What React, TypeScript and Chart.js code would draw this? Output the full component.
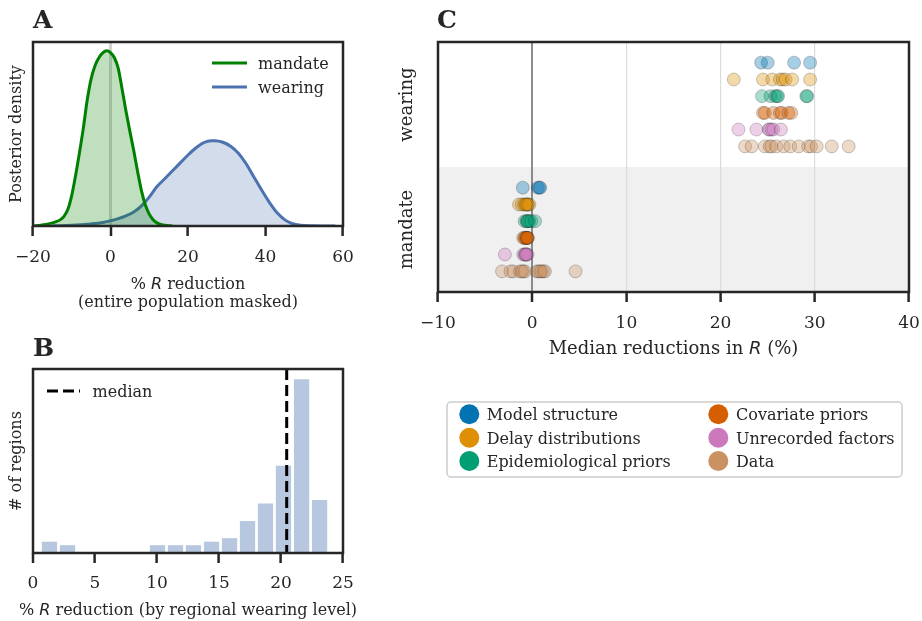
import React, { useEffect, useRef } from 'react';
import { Chart, registerables } from 'chart.js';

Chart.register(...registerables);

const SERIF = "'DejaVu Serif', serif";
const SANS = "'DejaVu Sans', sans-serif";
const INK = '#262626';

// ---------- Panel A: posterior densities (relative) ----------
const mandateX = [-20, -18, -16, -14, -13, -12, -11, -10, -9, -8, -7, -6, -5, -4, -3, -2, -1, 0, 1, 2, 3, 4, 5, 6, 7, 8, 9, 10, 11, 12, 13, 14, 16];
const mandateDensity = [0, 0.005, 0.012, 0.025, 0.035, 0.055, 0.095, 0.175, 0.29, 0.42, 0.56, 0.72, 0.84, 0.915, 0.96, 0.988, 1.0, 0.99, 0.96, 0.9, 0.78, 0.655, 0.54, 0.43, 0.31, 0.2, 0.12, 0.068, 0.036, 0.018, 0.009, 0.004, 0];
const wearingX = [-15, -10, -5, -2, 0, 2, 4, 6, 8, 10, 12, 14, 16, 18, 20, 22, 24, 26, 27, 29, 31, 33, 35, 37, 39, 41, 43, 45, 47, 49, 52, 58];
const wearingDensity = [0.001, 0.004, 0.012, 0.02, 0.03, 0.042, 0.058, 0.08, 0.115, 0.165, 0.225, 0.27, 0.315, 0.36, 0.405, 0.445, 0.475, 0.487, 0.487, 0.478, 0.455, 0.415, 0.355, 0.28, 0.205, 0.135, 0.075, 0.035, 0.013, 0.004, 0.001, 0];
const densityMax = 1.05;
const seriesALabels = ['mandate', 'wearing'];

// ---------- Panel B: histogram of regional reductions ----------
const binCenters = [1.33, 2.78, 4.23, 5.68, 7.14, 8.59, 10.04, 11.49, 12.94, 14.4, 15.85, 17.3, 18.75, 20.2, 21.66, 23.11];
const regionCounts = [2.9, 2.0, 0, 0.25, 0, 0.25, 2.0, 2.0, 2.0, 2.9, 3.8, 8.2, 12.7, 22.4, 44.6, 13.6];
const countMax = 47.2;
const medianReduction = 20.46;

// ---------- Panel C: sensitivity analysis medians ----------
const sourceNames = ['Model structure', 'Delay distributions', 'Epidemiological priors', 'Covariate priors', 'Unrecorded factors', 'Data'];
const sourceColors = ['#0173b2', '#de8f05', '#029e73', '#d55e00', '#cc78bc', '#ca9161'];
const groupLabels = ['wearing', 'mandate'];
const wearingMedians: number[][] = [
  [24.3, 25.0, 27.8, 29.5],
  [21.4, 24.5, 25.5, 26.3, 26.6, 26.9, 27.6, 29.5],
  [24.4, 25.3, 25.8, 26.0, 26.1, 29.1, 29.2],
  [24.5, 24.7, 25.6, 26.3, 26.5, 27.2, 27.5],
  [21.9, 23.8, 25.1, 25.2, 25.4, 25.6, 26.4],
  [22.6, 23.3, 24.7, 25.2, 25.4, 25.9, 26.7, 27.4, 28.3, 29.3, 29.6, 30.2, 31.8, 33.6],
];
const mandateMedians: number[][] = [
  [-1.0, 0.6, 0.75, 0.85],
  [-1.4, -1.1, -0.85, -0.6, -0.45, -0.3, -0.5, -0.7],
  [-0.8, -0.6, -0.45, -0.3, -0.1, 0.3, -0.5],
  [-0.95, -0.8, -0.6, -0.45, -0.7, -0.5, -0.55],
  [-2.9, -0.95, -0.8, -0.6, -0.5, -0.65, -0.7],
  [-3.2, -2.3, -2.0, -1.3, -0.95, -0.75, 0.5, 0.65, 1.0, 1.2, 1.35, 4.6, -1.1, 0.85],
];

// layout constants (not data)
const groupCenters = [1, 0];
const rowOffsets = [0.335, 0.2, 0.067, -0.067, -0.2, -0.335];

const fmtTick = (v: number) => (v < 0 ? '\u2212' + Math.abs(v) : String(v));

function hexA(hex: string, a: number) {
  const r = parseInt(hex.slice(1, 3), 16);
  const g = parseInt(hex.slice(3, 5), 16);
  const b = parseInt(hex.slice(5, 7), 16);
  return `rgba(${r},${g},${b},${a})`;
}

type Part = [string, boolean];
function drawRich(ctx: CanvasRenderingContext2D, parts: Part[], x: number, y: number, size: number, align: 'center' | 'left' = 'center') {
  ctx.save();
  ctx.fillStyle = INK;
  ctx.textBaseline = 'alphabetic';
  ctx.textAlign = 'left';
  const fontFor = (it: boolean) => (it ? `italic ${size}px ${SANS}` : `${size}px ${SERIF}`);
  let total = 0;
  for (const [t, it] of parts) {
    ctx.font = fontFor(it);
    total += ctx.measureText(t).width;
  }
  let cx = align === 'center' ? x - total / 2 : x;
  for (const [t, it] of parts) {
    ctx.font = fontFor(it);
    ctx.fillText(t, cx, y);
    cx += ctx.measureText(t).width;
  }
  ctx.restore();
}

function drawRotated(ctx: CanvasRenderingContext2D, text: string, x: number, y: number, size: number) {
  ctx.save();
  ctx.translate(x, y);
  ctx.rotate(-Math.PI / 2);
  ctx.font = `${size}px ${SERIF}`;
  ctx.fillStyle = INK;
  ctx.textAlign = 'center';
  ctx.textBaseline = 'alphabetic';
  ctx.fillText(text, 0, 0);
  ctx.restore();
}

function drawFrame(chart: any) {
  const { ctx, chartArea } = chart;
  const { left, top, right, bottom } = chartArea;
  ctx.save();
  ctx.strokeStyle = INK;
  ctx.lineWidth = 2.5;
  ctx.strokeRect(left, top, right - left, bottom - top);
  ctx.restore();
}

function drawLetter(ctx: CanvasRenderingContext2D, letter: string, x: number, y: number) {
  ctx.save();
  ctx.font = `bold 25px ${SERIF}`;
  ctx.fillStyle = INK;
  ctx.textAlign = 'left';
  ctx.textBaseline = 'alphabetic';
  ctx.fillText(letter, x, y);
  ctx.restore();
}

function legendLine(ctx: CanvasRenderingContext2D, x0: number, x1: number, y: number, color: string, dash: number[], label: string, tx: number, ty: number) {
  ctx.save();
  ctx.strokeStyle = color;
  ctx.lineWidth = 3;
  ctx.setLineDash(dash);
  ctx.beginPath();
  ctx.moveTo(x0, y);
  ctx.lineTo(x1, y);
  ctx.stroke();
  ctx.restore();
  ctx.save();
  ctx.font = `16px ${SERIF}`;
  ctx.fillStyle = INK;
  ctx.textAlign = 'left';
  ctx.textBaseline = 'alphabetic';
  ctx.fillText(label, tx, ty);
  ctx.restore();
}

function xAxis(min: number, max: number, step: number, height: number, padding: number, onArea = false) {
  return {
    type: 'linear',
    min,
    max,
    offset: false,
    afterFit: (s: any) => {
      s.height = height;
      s.paddingLeft = 0;
      s.paddingRight = 0;
    },
    border: { display: false },
    grid: {
      offset: false,
      drawOnChartArea: onArea,
      drawTicks: true,
      tickLength: 10,
      tickWidth: 2.5,
      tickColor: INK,
      color: (c: any) => (c.tick && c.tick.value === 0 ? 'rgba(128,128,128,0.9)' : '#dcdcdc'),
      lineWidth: (c: any) => (c.tick && c.tick.value === 0 ? 2 : 1.2),
    },
    ticks: {
      stepSize: step,
      color: INK,
      font: { family: SERIF, size: 17 },
      padding,
      maxRotation: 0,
      autoSkip: false,
      callback: (v: any) => fmtTick(Number(v)),
    },
  };
}

const baseOptions = {
  animation: false,
  responsive: false,
  devicePixelRatio: 1,
  events: [],
  plugins: { legend: { display: false }, tooltip: { enabled: false } },
};

function configA(): any {
  return {
    type: 'line',
    data: {
      datasets: [
        {
          label: seriesALabels[0],
          data: mandateX.map((x, i) => ({ x, y: mandateDensity[i] })),
          borderColor: '#008000',
          backgroundColor: 'rgba(0,128,0,0.25)',
          fill: 'origin',
          borderWidth: 3,
          pointRadius: 0,
          cubicInterpolationMode: 'monotone',
        },
        {
          label: seriesALabels[1],
          data: wearingX.map((x, i) => ({ x, y: wearingDensity[i] })),
          borderColor: '#4c72b0',
          backgroundColor: 'rgba(76,114,176,0.25)',
          fill: 'origin',
          borderWidth: 3,
          pointRadius: 0,
          cubicInterpolationMode: 'monotone',
        },
      ],
    },
    options: {
      ...baseOptions,
      layout: { padding: { left: 33, right: 17, top: 42, bottom: 0 } },
      scales: {
        x: xAxis(-20, 60, 20, 94, 11),
        y: { type: 'linear', display: false, min: 0, max: densityMax },
      },
    },
    plugins: [
      {
        id: 'decorA',
        beforeDatasetsDraw(chart: any) {
          const { ctx, chartArea, scales } = chart;
          const px = scales.x.getPixelForValue(0);
          ctx.save();
          ctx.strokeStyle = 'rgba(128,128,128,0.35)';
          ctx.lineWidth = 3;
          ctx.beginPath();
          ctx.moveTo(px, chartArea.top);
          ctx.lineTo(px, chartArea.bottom);
          ctx.stroke();
          ctx.restore();
        },
        afterDatasetsDraw(chart: any) {
          const ctx = chart.ctx;
          drawFrame(chart);
          legendLine(ctx, 212, 247, 63, '#008000', [], seriesALabels[0], 258, 68.5);
          legendLine(ctx, 212, 247, 87, '#4c72b0', [], seriesALabels[1], 258, 92.5);
        },
        afterDraw(chart: any) {
          const ctx = chart.ctx;
          const { left, right, top, bottom } = chart.chartArea;
          const cx = (left + right) / 2;
          drawRich(ctx, [['% ', false], ['R', true], [' reduction', false]], cx, 288.5, 16);
          drawRich(ctx, [['(entire population masked)', false]], cx, 306.5, 16);
          drawRotated(ctx, 'Posterior density', 21, (top + bottom) / 2, 16);
          drawLetter(ctx, 'A', 33, 28);
        },
      },
    ],
  };
}

function configB(): any {
  return {
    type: 'bar',
    data: {
      datasets: [
        {
          label: 'regions',
          data: binCenters.map((x, i) => ({ x, y: regionCounts[i] })),
          backgroundColor: 'rgb(183,199,223)',
          borderWidth: 0,
          barPercentage: 0.85,
          categoryPercentage: 1,
        },
      ],
    },
    options: {
      ...baseOptions,
      layout: { padding: { left: 33, right: 17, top: 49, bottom: 0 } },
      scales: {
        x: xAxis(0, 25, 5, 68, 10),
        y: { type: 'linear', display: false, min: 0, max: countMax },
      },
    },
    plugins: [
      {
        id: 'decorB',
        afterDatasetsDraw(chart: any) {
          const { ctx, chartArea, scales } = chart;
          const px = scales.x.getPixelForValue(medianReduction);
          ctx.save();
          ctx.strokeStyle = '#000';
          ctx.lineWidth = 3;
          ctx.setLineDash([11, 5]);
          ctx.beginPath();
          ctx.moveTo(px, chartArea.top);
          ctx.lineTo(px, chartArea.bottom);
          ctx.stroke();
          ctx.restore();
          drawFrame(chart);
          legendLine(ctx, 47, 80, 71, '#000', [11, 5], 'median', 92.5, 76.5);
        },
        afterDraw(chart: any) {
          const ctx = chart.ctx;
          const { left, right, top, bottom } = chart.chartArea;
          drawRich(ctx, [['% ', false], ['R', true], [' reduction (by regional wearing level)', false]], (left + right) / 2, 295, 16);
          drawRotated(ctx, '# of regions', 21, (top + bottom) / 2, 16);
          drawLetter(ctx, 'B', 33, 36);
        },
      },
    ],
  };
}

function configC(): any {
  return {
    type: 'scatter',
    data: {
      datasets: sourceNames.map((name, s) => ({
        label: name,
        data: [
          ...wearingMedians[s].map((x) => ({ x, y: groupCenters[0] + rowOffsets[s] })),
          ...mandateMedians[s].map((x) => ({ x, y: groupCenters[1] + rowOffsets[s] })),
        ],
        pointBackgroundColor: hexA(sourceColors[s], 0.35),
        pointBorderColor: 'rgba(0,0,0,0.2)',
        pointBorderWidth: 1,
        pointRadius: 6.5,
        showLine: false,
      })),
    },
    options: {
      ...baseOptions,
      layout: { padding: { left: 58, right: 13, top: 42, bottom: 0 } },
      scales: {
        x: xAxis(-10, 40, 10, 208, 11, true),
        y: { type: 'linear', display: false, min: -0.5, max: 1.5 },
      },
    },
    plugins: [
      {
        id: 'decorC',
        beforeDraw(chart: any) {
          const { ctx, chartArea, scales } = chart;
          const y0 = scales.y.getPixelForValue(groupCenters[1] + 0.5);
          const y1 = scales.y.getPixelForValue(groupCenters[1] - 0.5);
          ctx.save();
          ctx.fillStyle = '#f0f0f0';
          ctx.fillRect(chartArea.left, y0, chartArea.right - chartArea.left, y1 - y0);
          ctx.restore();
        },
        afterDatasetsDraw(chart: any) {
          drawFrame(chart);
        },
        afterDraw(chart: any) {
          const { ctx, chartArea, scales } = chart;
          groupLabels.forEach((g, i) => {
            drawRotated(ctx, g, 32, scales.y.getPixelForValue(groupCenters[i]), 18);
          });
          drawRich(ctx, [['Median reductions in ', false], ['R', true], [' (%)', false]], (chartArea.left + chartArea.right) / 2, 354, 18);
          drawLetter(ctx, 'C', 57, 28);
          // legend box
          const bx = 67, by = 402, bw = 455, bh = 75, r = 4;
          ctx.save();
          ctx.strokeStyle = '#cccccc';
          ctx.lineWidth = 1.5;
          ctx.beginPath();
          ctx.moveTo(bx + r, by);
          ctx.arcTo(bx + bw, by, bx + bw, by + bh, r);
          ctx.arcTo(bx + bw, by + bh, bx, by + bh, r);
          ctx.arcTo(bx, by + bh, bx, by, r);
          ctx.arcTo(bx, by, bx + bw, by, r);
          ctx.closePath();
          ctx.fillStyle = 'rgba(255,255,255,0.8)';
          ctx.fill();
          ctx.stroke();
          ctx.restore();
          const colX = [89.3, 338.3];
          const textX = [106.7, 356];
          const rowY = [414.3, 437.7, 461];
          sourceNames.forEach((name, s) => {
            const c = Math.floor(s / 3);
            const rr = s % 3;
            ctx.save();
            ctx.fillStyle = sourceColors[s];
            ctx.beginPath();
            ctx.arc(colX[c], rowY[rr], 10, 0, Math.PI * 2);
            ctx.fill();
            ctx.font = `16px ${SERIF}`;
            ctx.fillStyle = INK;
            ctx.textAlign = 'left';
            ctx.textBaseline = 'alphabetic';
            ctx.fillText(name, textX[c], rowY[rr] + 6);
            ctx.restore();
          });
        },
      },
    ],
  };
}

function ChartCanvas(props: { left: number; top: number; width: number; height: number; config: () => any }) {
  const ref = useRef<HTMLCanvasElement>(null);
  useEffect(() => {
    const chart = new Chart(ref.current as HTMLCanvasElement, props.config());
    return () => chart.destroy();
  }, []);
  const { left, top, width, height } = props;
  return (
    <canvas
      ref={ref}
      width={width}
      height={height}
      style={{ position: 'absolute', left, top, width, height, display: 'block' }}
    />
  );
}

export default function App() {
  return (
    <div style={{ position: 'absolute', left: 0, top: 0, width: 922, height: 621, background: '#fff', overflow: 'hidden' }}>
      <ChartCanvas left={0} top={0} width={360} height={320} config={configA} />
      <ChartCanvas left={0} top={320} width={360} height={301} config={configB} />
      <ChartCanvas left={380} top={0} width={542} height={500} config={configC} />
    </div>
  );
}
